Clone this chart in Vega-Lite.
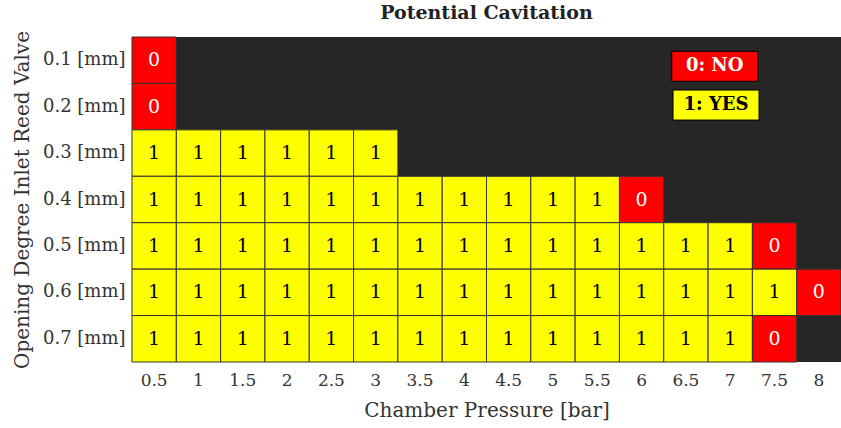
{
  "$schema": "https://vega.github.io/schema/vega-lite/v6.json",
  "width": 709,
  "height": 325,
  "autosize": {"type": "none"},
  "padding": {"left": 132, "top": 37, "right": 0, "bottom": 66},
  "background": "white",
  "title": {
    "text": "Potential Cavitation",
    "font": "DejaVu Serif",
    "fontSize": 19,
    "fontWeight": "bold",
    "color": "#222222",
    "anchor": "middle",
    "offset": 8
  },
  "config": {
    "view": {"fill": "#262626", "stroke": null},
    "font": "DejaVu Serif"
  },
  "datasets": {
    "cells": [
      {"p": "0.5", "o": "0.1 [mm]", "v": 0},
      {"p": "0.5", "o": "0.2 [mm]", "v": 0},
      {"p": "0.5", "o": "0.3 [mm]", "v": 1},
      {"p": "1", "o": "0.3 [mm]", "v": 1},
      {"p": "1.5", "o": "0.3 [mm]", "v": 1},
      {"p": "2", "o": "0.3 [mm]", "v": 1},
      {"p": "2.5", "o": "0.3 [mm]", "v": 1},
      {"p": "3", "o": "0.3 [mm]", "v": 1},
      {"p": "0.5", "o": "0.4 [mm]", "v": 1},
      {"p": "1", "o": "0.4 [mm]", "v": 1},
      {"p": "1.5", "o": "0.4 [mm]", "v": 1},
      {"p": "2", "o": "0.4 [mm]", "v": 1},
      {"p": "2.5", "o": "0.4 [mm]", "v": 1},
      {"p": "3", "o": "0.4 [mm]", "v": 1},
      {"p": "3.5", "o": "0.4 [mm]", "v": 1},
      {"p": "4", "o": "0.4 [mm]", "v": 1},
      {"p": "4.5", "o": "0.4 [mm]", "v": 1},
      {"p": "5", "o": "0.4 [mm]", "v": 1},
      {"p": "5.5", "o": "0.4 [mm]", "v": 1},
      {"p": "6", "o": "0.4 [mm]", "v": 0},
      {"p": "0.5", "o": "0.5 [mm]", "v": 1},
      {"p": "1", "o": "0.5 [mm]", "v": 1},
      {"p": "1.5", "o": "0.5 [mm]", "v": 1},
      {"p": "2", "o": "0.5 [mm]", "v": 1},
      {"p": "2.5", "o": "0.5 [mm]", "v": 1},
      {"p": "3", "o": "0.5 [mm]", "v": 1},
      {"p": "3.5", "o": "0.5 [mm]", "v": 1},
      {"p": "4", "o": "0.5 [mm]", "v": 1},
      {"p": "4.5", "o": "0.5 [mm]", "v": 1},
      {"p": "5", "o": "0.5 [mm]", "v": 1},
      {"p": "5.5", "o": "0.5 [mm]", "v": 1},
      {"p": "6", "o": "0.5 [mm]", "v": 1},
      {"p": "6.5", "o": "0.5 [mm]", "v": 1},
      {"p": "7", "o": "0.5 [mm]", "v": 1},
      {"p": "7.5", "o": "0.5 [mm]", "v": 0},
      {"p": "0.5", "o": "0.6 [mm]", "v": 1},
      {"p": "1", "o": "0.6 [mm]", "v": 1},
      {"p": "1.5", "o": "0.6 [mm]", "v": 1},
      {"p": "2", "o": "0.6 [mm]", "v": 1},
      {"p": "2.5", "o": "0.6 [mm]", "v": 1},
      {"p": "3", "o": "0.6 [mm]", "v": 1},
      {"p": "3.5", "o": "0.6 [mm]", "v": 1},
      {"p": "4", "o": "0.6 [mm]", "v": 1},
      {"p": "4.5", "o": "0.6 [mm]", "v": 1},
      {"p": "5", "o": "0.6 [mm]", "v": 1},
      {"p": "5.5", "o": "0.6 [mm]", "v": 1},
      {"p": "6", "o": "0.6 [mm]", "v": 1},
      {"p": "6.5", "o": "0.6 [mm]", "v": 1},
      {"p": "7", "o": "0.6 [mm]", "v": 1},
      {"p": "7.5", "o": "0.6 [mm]", "v": 1},
      {"p": "8", "o": "0.6 [mm]", "v": 0},
      {"p": "0.5", "o": "0.7 [mm]", "v": 1},
      {"p": "1", "o": "0.7 [mm]", "v": 1},
      {"p": "1.5", "o": "0.7 [mm]", "v": 1},
      {"p": "2", "o": "0.7 [mm]", "v": 1},
      {"p": "2.5", "o": "0.7 [mm]", "v": 1},
      {"p": "3", "o": "0.7 [mm]", "v": 1},
      {"p": "3.5", "o": "0.7 [mm]", "v": 1},
      {"p": "4", "o": "0.7 [mm]", "v": 1},
      {"p": "4.5", "o": "0.7 [mm]", "v": 1},
      {"p": "5", "o": "0.7 [mm]", "v": 1},
      {"p": "5.5", "o": "0.7 [mm]", "v": 1},
      {"p": "6", "o": "0.7 [mm]", "v": 1},
      {"p": "6.5", "o": "0.7 [mm]", "v": 1},
      {"p": "7", "o": "0.7 [mm]", "v": 1},
      {"p": "7.5", "o": "0.7 [mm]", "v": 0}
    ],
    "legend": [
      {"label": "0: NO", "v": 0, "p": "7", "o": "0.1 [mm]"},
      {"label": "1: YES", "v": 1, "p": "7", "o": "0.2 [mm]"}
    ]
  },
  "encoding": {
    "x": {
      "field": "p",
      "type": "ordinal",
      "scale": {"domain": ["0.5","1","1.5","2","2.5","3","3.5","4","4.5","5","5.5","6","6.5","7","7.5","8"], "paddingInner": 0, "paddingOuter": 0},
      "axis": {
        "title": "Chamber Pressure [bar]",
        "titleFont": "DejaVu Serif",
        "titleFontSize": 20,
        "titleFontWeight": "normal",
        "titleColor": "#333333",
        "titlePadding": 12,
        "labelFont": "DejaVu Serif",
        "labelFontSize": 17,
        "labelColor": "#333333",
        "labelAngle": 0,
        "labelPadding": 10,
        "ticks": false,
        "domain": false
      }
    },
    "y": {
      "field": "o",
      "type": "ordinal",
      "scale": {"domain": ["0.1 [mm]","0.2 [mm]","0.3 [mm]","0.4 [mm]","0.5 [mm]","0.6 [mm]","0.7 [mm]"], "paddingInner": 0, "paddingOuter": 0},
      "axis": {
        "title": "Opening Degree Inlet Reed Valve",
        "titleFont": "DejaVu Serif",
        "titleFontSize": 20,
        "titleFontWeight": "normal",
        "titleColor": "#333333",
        "titlePadding": 10,
        "labelFont": "DejaVu Serif",
        "labelFontSize": 18,
        "labelColor": "#333333",
        "labelPadding": 7,
        "ticks": false,
        "domain": false
      }
    }
  },
  "layer": [
    {
      "data": {"name": "cells"},
      "mark": {"type": "rect", "stroke": "#333333", "strokeWidth": 1},
      "encoding": {
        "fill": {
          "field": "v",
          "type": "nominal",
          "scale": {"domain": [0, 1], "range": ["#ff0000", "#ffff00"]},
          "legend": null
        }
      }
    },
    {
      "data": {"name": "cells"},
      "mark": {"type": "text", "font": "DejaVu Serif", "fontSize": 19},
      "encoding": {
        "text": {"field": "v", "type": "nominal"},
        "color": {
          "field": "v",
          "type": "nominal",
          "scale": {"domain": [0, 1], "range": ["#ffffff", "#000000"]},
          "legend": null
        }
      }
    },
    {
      "data": {"name": "legend"},
      "mark": {"type": "point", "filled": true, "stroke": "#000000", "strokeWidth": 1, "opacity": 1, "size": 7396},
      "encoding": {
        "shape": {
          "field": "v",
          "type": "nominal",
          "scale": {"domain": [0, 1], "range": ["M-1.36,-0.207H0.64V0.491H-1.36Z", "M-1.33,-0.386H0.67V0.312H-1.33Z"]},
          "legend": null
        },
        "fill": {
          "field": "v",
          "type": "nominal",
          "scale": {"domain": [0, 1], "range": ["#ff0000", "#ffff00"]},
          "legend": null
        }
      }
    },
    {
      "data": {"name": "legend"},
      "transform": [{"filter": "datum.v === 0"}],
      "mark": {"type": "text", "font": "DejaVu Serif", "fontSize": 18, "fontWeight": "bold", "color": "#ffffff", "dx": -15.5, "dy": 6.1},
      "encoding": {"text": {"field": "label", "type": "nominal"}}
    },
    {
      "data": {"name": "legend"},
      "transform": [{"filter": "datum.v === 1"}],
      "mark": {"type": "text", "font": "DejaVu Serif", "fontSize": 18, "fontWeight": "bold", "color": "#000000", "dx": -14.2, "dy": -1.6},
      "encoding": {"text": {"field": "label", "type": "nominal"}}
    }
  ]
}
